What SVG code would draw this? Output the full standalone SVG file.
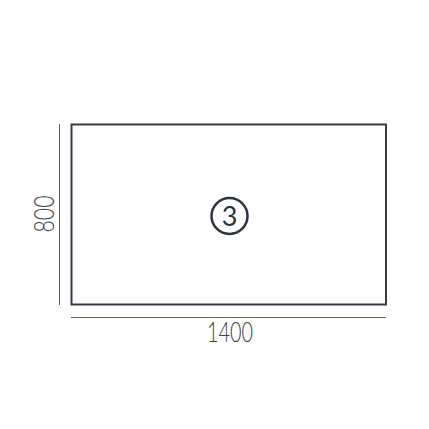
<svg xmlns="http://www.w3.org/2000/svg" width="429" height="429" viewBox="0 0 429 429">
<style>
.dim{stroke:#5a6068;stroke-width:1;fill:none}
.t{font-family:Lato,"Open Sans",sans-serif;font-weight:300;fill:#3a4048}
</style>
<rect width="429" height="429" fill="#fff"/>
<g id="panel">
<rect x="71.5" y="124.5" width="314.5" height="180" fill="none" stroke="#333d48" stroke-width="2"/>
</g>
<g id="label3">
<circle cx="229.5" cy="216" r="18" fill="none" stroke="#2a3340" stroke-width="2.5"/>
<text class="t" x="229.5" y="225.5" font-size="27" text-anchor="middle" style="font-weight:400;fill:#2a3340">3</text>
</g>
<g id="dimensions">
<line class="dim" x1="59.5" y1="124" x2="59.5" y2="305"/>
<line class="dim" x1="71" y1="317.5" x2="386" y2="317.5"/>
<text class="t" x="230" y="342" font-size="27" text-anchor="middle" textLength="46" lengthAdjust="spacingAndGlyphs">1400</text>
<text class="t" transform="translate(54,214) rotate(-90)" x="0" y="0" font-size="27" text-anchor="middle" textLength="37" lengthAdjust="spacingAndGlyphs">800</text>
</g>
</svg>
